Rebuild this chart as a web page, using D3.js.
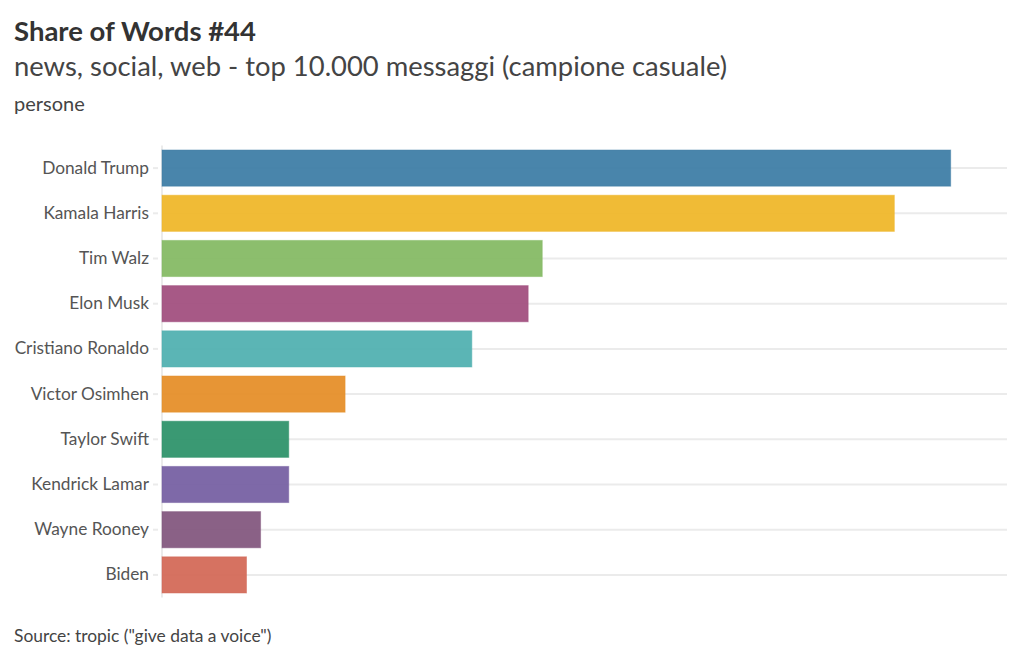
<!DOCTYPE html>
<html><head><meta charset="utf-8">
<script src="https://cdn.jsdelivr.net/npm/d3@7"></script>
<style>body{margin:0;background:#fff}svg{display:block}text{font-family:Lato,"Open Sans",sans-serif}</style>
</head><body><svg id="c" width="1024" height="662"></svg>
<script>
const categories = ["Donald Trump","Kamala Harris","Tim Walz","Elon Musk","Cristiano Ronaldo","Victor Osimhen","Taylor Swift","Kendrick Lamar","Wayne Rooney","Biden"];
const values = [56,52,27,26,22,13,9,9,7,6];
const colors = ["#3f7ea6","#efb72b","#86bb65","#a2507f","#52b1b1","#e68f2a","#2f946b","#7761a3","#84587f","#d46a59"];
const title = "Share of Words #44";
const subtitle = "news, social, web - top 10.000 messaggi (campione casuale)";
const groupLabel = "persone";
const source = "Source: tropic (\"give data a voice\")";

const svg = d3.select("#c");
const x = d3.scaleLinear().domain([0,60]).range([162,1007]);
const y = d3.scaleBand().domain(categories).range([145.5,597.5]).paddingInner(0.2).paddingOuter(0.1);

svg.append("text").attr("x",14).attr("y",41).attr("font-size",27.5).attr("font-weight",700).attr("fill","#333").text(title);
svg.append("text").attr("x",14).attr("y",76).attr("font-size",27.4).attr("fill","#444").text(subtitle);
svg.append("text").attr("x",14).attr("y",111).attr("font-size",20).attr("fill","#444").text(groupLabel);

// gridlines
svg.append("g").selectAll("line").data(categories).join("line")
  .attr("x1",162).attr("x2",1007)
  .attr("y1",d=>y(d)+y.bandwidth()/2).attr("y2",d=>y(d)+y.bandwidth()/2)
  .attr("stroke","#ebebeb").attr("stroke-width",2);

const ax = svg.append("g").attr("transform","translate(162,0)")
  .call(d3.axisLeft(y).tickSize(6).tickPadding(6));
ax.select(".domain").attr("stroke","#ebebeb").attr("stroke-width",2).attr("d",`M0,${145.5}V${597.5}`);
ax.selectAll(".tick line").attr("stroke","#ebebeb").attr("stroke-width",2).attr("x1",-9).attr("x2",-4);
ax.selectAll(".tick text").attr("font-size",17.3).attr("fill","#555").attr("x",-13).style("font-family","Lato, sans-serif");

svg.append("g").selectAll("rect").data(categories).join("rect")
  .attr("x",x(0)).attr("y",d=>y(d))
  .attr("width",(d,i)=>x(values[i])-x(0)).attr("height",y.bandwidth())
  .attr("fill",(d,i)=>colors[i]).attr("fill-opacity",0.95)
  .attr("stroke",(d,i)=>colors[i]).attr("stroke-opacity",0.5).attr("stroke-width",1);

svg.append("text").attr("x",14).attr("y",642).attr("font-size",17.4).attr("fill","#444").text(source);
</script></body></html>
